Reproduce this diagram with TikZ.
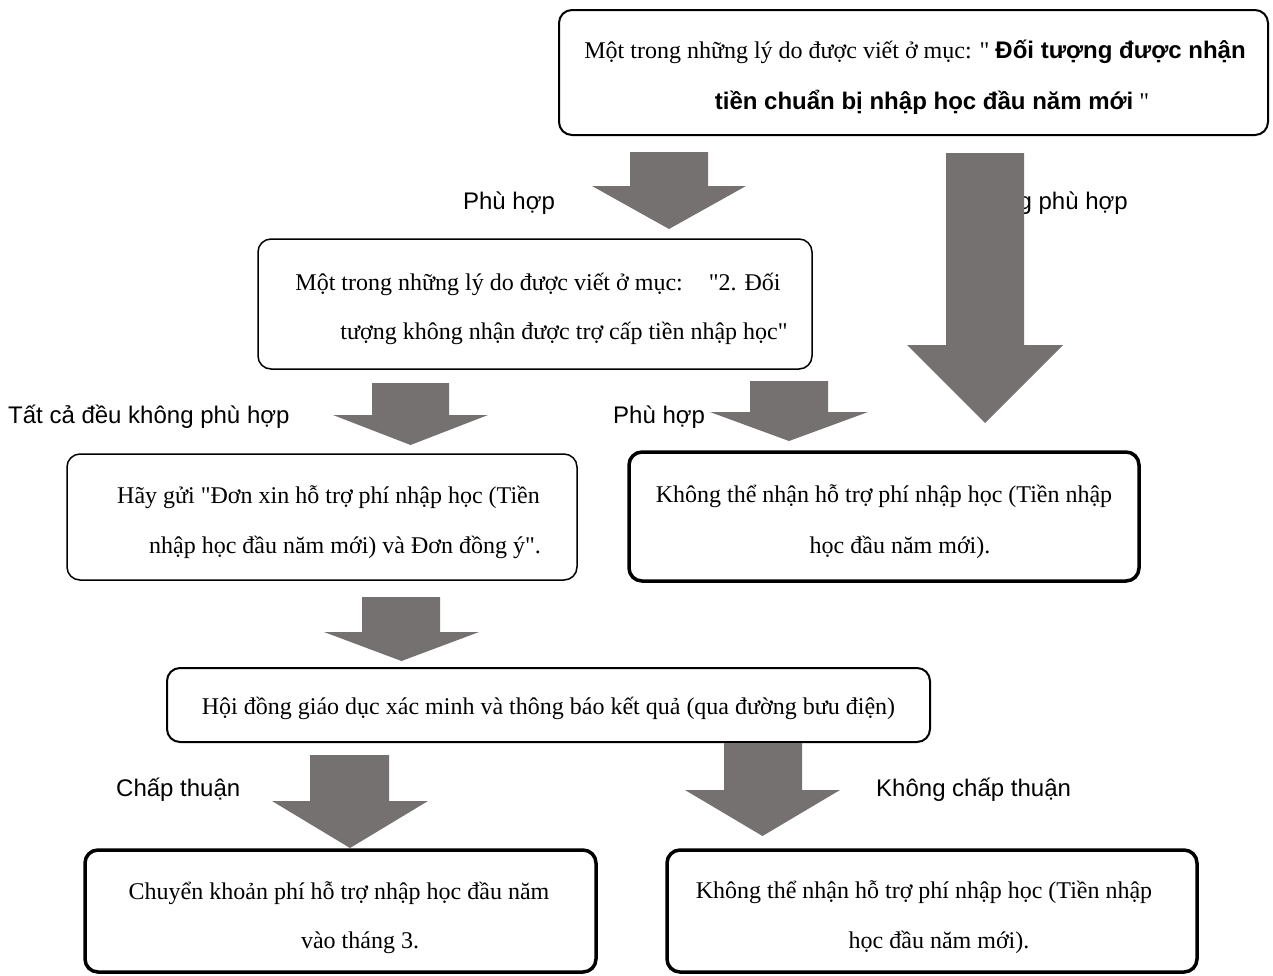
\documentclass[tikz,border=0pt]{standalone}
\usepackage{fontspec}
\setmainfont{Liberation Serif}[Ligatures=TeXOff]
\setsansfont{Liberation Sans}[Ligatures=TeXOff]
\definecolor{arrowgray}{HTML}{767171}
\newcommand\blockarrow[7]{%
  \fill[arrowgray] (#1,#3) -- (#2,#3) -- (#2,#6) -- (#5,#6) -- ({(#4+#5)/2},#7) -- (#4,#6) -- (#1,#6) -- cycle;}
\tikzset{
  boxshape/.style={draw=black, rounded corners=13pt, inner sep=0pt},
  thinbox/.style={boxshape, line width=1.5pt},
  midbox/.style={boxshape, line width=2pt},
  thickbox/.style={boxshape, line width=3.5pt},
  bodytext/.style={font=\fontsize{24}{28}\selectfont, inner sep=0pt, anchor=base},
  labeltext/.style={font=\sffamily\fontsize{24}{28}\selectfont, inner sep=0pt},
}
\begin{document}
\begin{tikzpicture}[x=1pt,y=-1pt]
\useasboundingbox (0,0) rectangle (1273,975);
% boxes
\node[midbox, minimum width=709pt, minimum height=125pt] (top) at (913.5,72.5) {};
\node[thinbox, minimum width=554pt, minimum height=130pt] (q2) at (535,304) {};
\node[thinbox, minimum width=510pt, minimum height=126pt] (send) at (322,517) {};
\node[thickbox, minimum width=510pt, minimum height=129pt] (no1) at (884,516.5) {};
\node[midbox, minimum width=763pt, minimum height=74pt] (council) at (548.5,705) {};
\node[thickbox, minimum width=511pt, minimum height=122pt] (pay) at (340.5,911) {};
\node[thickbox, minimum width=530pt, minimum height=122pt] (no2) at (932,911) {};
% texts
\node[bodytext] (t1a) at (915,58) {Một trong những lý do được viết ở mục: " \textsf{\bfseries Đối tượng được nhận}};
\node[bodytext] (t1b) at (932,109) {\textsf{\bfseries tiền chuẩn bị nhập học đầu năm mới} "};
\node[bodytext] (t2a) at (538,290) {Một trong những lý do được viết ở mục:\hspace{26pt}"2. Đối};
\node[bodytext] (t2b) at (564,339) {tượng không nhận được trợ cấp tiền nhập học"};
\node[bodytext] (t3a) at (328.5,503) {Hãy gửi "Đơn xin hỗ trợ phí nhập học (Tiền};
\node[bodytext] (t3b) at (345,553) {nhập học đầu năm mới) và Đơn đồng ý".};
\node[bodytext] (t4a) at (884,502) {Không thể nhận hỗ trợ phí nhập học (Tiền nhập};
\node[bodytext] (t4b) at (900,553) {học đầu năm mới).};
\node[bodytext] (t5) at (548.5,714) {Hội đồng giáo dục xác minh và thông báo kết quả (qua đường bưu điện)};
\node[bodytext] (t6a) at (339,899) {Chuyển khoản phí hỗ trợ nhập học đầu năm};
\node[bodytext] (t6b) at (360,948) {vào tháng 3.};
\node[bodytext] (t7a) at (924,898) {Không thể nhận hỗ trợ phí nhập học (Tiền nhập};
\node[bodytext] (t7b) at (939,948) {học đầu năm mới).};
% labels
\node[labeltext, anchor=base] (l1) at (509,209) {Phù hợp};
\node[labeltext, anchor=base east] (l2) at (1128,209) {Không phù hợp};
\node[labeltext, anchor=base west] (l3) at (8,423) {Tất cả đều không phù hợp};
\node[labeltext, anchor=base west] (l4) at (613,423) {Phù hợp};
\node[labeltext, anchor=base west] (l5) at (116,796) {Chấp thuận};
\node[labeltext, anchor=base west] (l6) at (876,796) {Không chấp thuận};
% block arrows
\blockarrow{630}{708}{152}{592}{746}{186}{229}
\blockarrow{946}{1024}{153}{907}{1063}{345}{423}
\blockarrow{372}{449}{383}{333}{488}{415}{445}
\blockarrow{750}{828}{381}{710}{868}{412}{441}
\blockarrow{362}{440}{597}{324}{479}{632}{661}
\blockarrow{310}{389}{755}{272}{428}{801}{848}
\blockarrow{724}{802}{743}{685}{840}{790}{836}
\end{tikzpicture}
\end{document}
